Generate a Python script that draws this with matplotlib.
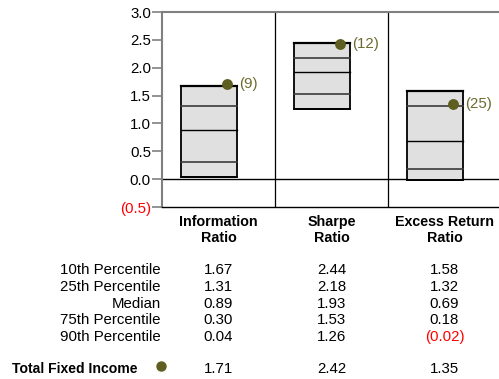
import matplotlib
matplotlib.use("Agg")
import matplotlib.pyplot as plt
from matplotlib.patches import Rectangle
from matplotlib.transforms import blended_transform_factory

plt.rcParams['font.family'] = ['Liberation Sans', 'DejaVu Sans']

categories = ["Information\nRatio", "Sharpe\nRatio", "Excess Return\nRatio"]
row_labels = ["10th Percentile", "25th Percentile", "Median", "75th Percentile", "90th Percentile"]
p10 = [1.67, 2.44, 1.58]
p25 = [1.31, 2.18, 1.32]
median = [0.89, 1.93, 0.69]
p75 = [0.30, 1.53, 0.18]
p90 = [0.04, 1.26, -0.02]
fund_values = [1.71, 2.42, 1.35]
fund_ranks = [9, 12, 25]
fund_name = "Total Fixed Income"
y_ticks = [-0.5, 0.0, 0.5, 1.0, 1.5, 2.0, 2.5, 3.0]

W, H = 499, 379
fig = plt.figure(figsize=(W / 100, H / 100), dpi=100)
ax_left, ax_top, ax_bottom, ax_right = 162, 12, 207, 501
ax = fig.add_axes([ax_left / W, 1 - ax_bottom / H, (ax_right - ax_left) / W, (ax_bottom - ax_top) / H])
ax.set_xlim(0, 3)
ax.set_ylim(-0.5, 3.0)

dot_color = "#5e5e20"
text_olive = "#6b6b2f"
fill = "#e0e0e0"
FS = 10.8

def fmt(v):
    return f"({abs(v):.2f})" if v < 0 else f"{v:.2f}"

for i in range(3):
    left = i + 0.5 - 37.5 / 113
    width = 56 / 113
    ax.add_patch(Rectangle((left, p90[i]), width, p10[i] - p90[i], facecolor=fill,
                           edgecolor="black", linewidth=1.3, zorder=3))
    ax.plot([left, left + width], [p10[i]] * 2, color="black", lw=1.6, zorder=4)
    ax.plot([left, left + width], [p25[i]] * 2, color="#3a3a3a", lw=1.2, zorder=4)
    ax.plot([left, left + width], [median[i]] * 2, color="black", lw=1.0, zorder=4)
    ax.plot([left, left + width], [p75[i]] * 2, color="#3a3a3a", lw=1.2, zorder=4)
    ax.plot([left, left + width], [p90[i]] * 2, color="black", lw=1.3, zorder=4)
    dx = i + 0.5 + 8.5 / 113
    ax.plot([dx], [fund_values[i]], 'o', color=dot_color, markersize=6.8, zorder=5)
    ax.text(dx + 12 / 113, fund_values[i], f"({fund_ranks[i]})", color=text_olive,
            fontsize=FS, va="center", ha="left", zorder=5)

# panel separators and reference lines
for xv in [1, 2]:
    ax.axvline(xv, color="black", lw=0.9, zorder=2)
ax.axhline(0, color="black", lw=1.0, zorder=2)

ax.spines["right"].set_visible(False)
ax.spines["top"].set_color("#808080")
ax.spines["top"].set_linewidth(1.5)
ax.spines["left"].set_color("#808080")
ax.spines["left"].set_linewidth(1.5)
ax.spines["bottom"].set_color("black")
ax.spines["bottom"].set_linewidth(1.0)

ax.set_xticks([])
ax.set_yticks(y_ticks)
ax.set_yticklabels([f"({abs(t):.1f})" if t < 0 else f"{t:.1f}" for t in y_ticks], fontsize=FS)
ax.tick_params(axis="y", length=7, width=1.2, color="#808080", pad=1)
for lbl, t in zip(ax.get_yticklabels(), y_ticks):
    lbl.set_color("red" if t < 0 else "black")

tr = blended_transform_factory(ax.transData, fig.transFigure)
def fy(py):
    return 1 - py / H

for i, c in enumerate(categories):
    ax.text(i + 0.5, fy(230), c, transform=tr, ha="center", va="center",
            fontsize=10.3, fontweight="bold", linespacing=1.15)

row_y = [270, 287, 303.5, 320, 337]
cols = [p10, p25, median, p75, p90]
for r, (lab, vals) in enumerate(zip(row_labels, cols)):
    fig.text(161 / W, fy(row_y[r]), lab, ha="right", va="center", fontsize=FS)
    for i in range(3):
        v = vals[i]
        ax.text(i + 0.5, fy(row_y[r]), fmt(v), transform=tr, ha="center", va="center",
                fontsize=FS, color="red" if v < 0 else "black")

fig.text(12 / W, fy(369), fund_name, ha="left", va="center", fontsize=10.1, fontweight="bold")
fig.lines.append(plt.Line2D([161 / W], [fy(366)], marker="o", color=dot_color,
                            markersize=6.5, transform=fig.transFigure, linestyle="none"))
for i in range(3):
    ax.text(i + 0.5, fy(369), fmt(fund_values[i]), transform=tr, ha="center", va="center", fontsize=FS)

fig.savefig("out.png", dpi=100)
